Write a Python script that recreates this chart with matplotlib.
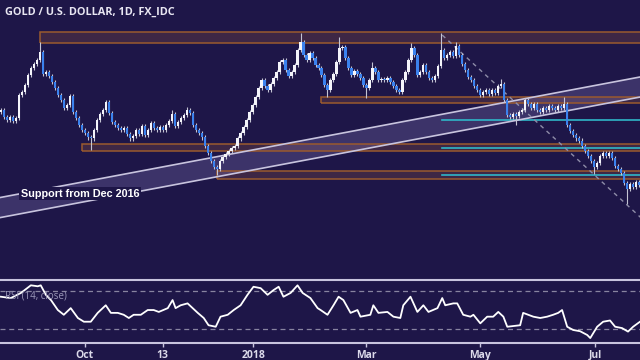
import matplotlib
matplotlib.use('Agg')
import matplotlib.pyplot as plt
from matplotlib.patches import Rectangle
import numpy as np

# ---------------- data ----------------
closes = [
    1290, 1283, 1280, 1283, 1279, 1282, 1305, 1308, 1315, 1325,
    1332, 1336, 1340, 1348, 1326, 1328, 1324, 1318, 1312, 1305,
    1300, 1292, 1295, 1304, 1288, 1282, 1275, 1270, 1267, 1263,
    1262, 1270, 1280, 1286, 1290, 1298, 1287, 1278, 1275, 1272,
    1270, 1272, 1266, 1262, 1264, 1270, 1266, 1274, 1265, 1270,
    1277, 1272, 1270, 1273, 1270, 1275, 1279, 1286, 1274, 1278,
    1282, 1285, 1290, 1287, 1275, 1270, 1267, 1263, 1255, 1248,
    1240, 1234, 1232, 1240, 1244, 1247, 1250, 1253, 1255, 1262,
    1267, 1273, 1280, 1288, 1295, 1303, 1312, 1320, 1314, 1310,
    1316, 1322, 1328, 1338, 1340, 1330, 1324, 1328, 1335, 1350,
    1358, 1345, 1340, 1347, 1342, 1335, 1332, 1325, 1315, 1310,
    1320, 1326, 1338, 1352, 1353, 1342, 1332, 1325, 1329, 1326,
    1322, 1315, 1312, 1320, 1332, 1328, 1320, 1321, 1320, 1322,
    1318, 1314, 1310, 1308, 1320, 1328, 1340, 1352, 1345, 1325,
    1328, 1335, 1328, 1322, 1320, 1324, 1334, 1350, 1342, 1345,
    1348, 1344, 1354, 1345, 1336, 1330, 1323, 1320, 1314, 1310,
    1305, 1308, 1310, 1306, 1310, 1307, 1314, 1316, 1300, 1285,
    1283, 1286, 1284, 1288, 1290, 1300, 1296, 1292, 1296, 1290,
    1288, 1292, 1290, 1294, 1292, 1290, 1294, 1292, 1296, 1275,
    1269, 1265, 1262, 1260, 1255, 1250, 1245, 1240, 1234, 1238,
    1245, 1248, 1245, 1248, 1243, 1235, 1232, 1228, 1218, 1212,
    1217, 1214, 1219, 1216,
]
first_open = 1288
extreme_highs = {13: 1358, 35: 1300, 57: 1290, 62: 1293, 100: 1367, 113: 1363,
                 124: 1338, 137: 1357, 147: 1367, 152: 1358, 167: 1321, 188: 1303}
extreme_lows = {30: 1251, 72: 1226, 109: 1303, 122: 1302, 172: 1275,
                198: 1227, 209: 1197}

zone_low = [1357, 1297, 1250, 1222]
zone_high = [1368, 1303, 1257, 1230]
zone_start = [13, 107, 27, 72]
cyan_levels = [1280, 1253, 1226]
cyan_start = 147.3

channel_x = [-2, 216]
channel_upper = [1202.2, 1324.8]
channel_lower = [1182.2, 1304.8]
trend_x = [147.3, 214]
trend_y = [1365, 1182]

rsi_x = [0.0, 3.3, 6.7, 10, 12.3, 13.3, 15, 16.7, 19, 21, 23.3, 25.7, 27.7, 30, 32.3, 35,
         36.7, 39, 41, 42.7, 44.3, 46.7, 49, 51, 52.7, 55.7, 57.3, 58.3, 60, 62.3, 64,
         65.7, 67.7, 69.3, 71.7, 73.3, 75.7, 77.7, 80, 82.3, 84.3, 86.7, 89, 91, 92.7,
         94.3, 96.7, 99, 100.7, 103.3, 105.7, 106.7, 109, 111, 112.7, 114.3, 116.7, 119,
         120, 123.3, 124.3, 126, 129, 131, 133.3, 134.3, 136.7, 139, 141, 142.7, 145.7,
         147.3, 148.3, 151, 152.3, 154.3, 156.7, 157.7, 160, 162.3, 164.3, 166, 167.7,
         169, 173.3, 174.3, 177.7, 180, 182.3, 184.3, 186, 187.3, 189, 191, 193.3, 195.7,
         196.7, 199, 201, 203.3, 205, 207.3, 209.3, 211, 213.3]
rsi_val = [64, 62.6, 68, 76, 75, 76, 66, 60.5, 50, 45, 52, 41.6, 37.7, 37.7, 47, 55,
           47, 47, 45, 41.6, 45, 45, 50, 50, 48, 52, 60.5, 52, 55, 57, 52,
           47, 41.6, 34, 32.4, 43, 45, 50, 55, 66, 74.5, 73, 66, 71, 74.5,
           64, 68, 76, 68, 62.6, 52, 50, 45, 55, 64, 60.5, 47, 50,
           43, 45, 55, 47, 48, 43, 41.6, 55, 64, 48, 55, 48, 52,
           62.6, 55, 57, 57, 45, 43, 45, 36, 43, 43, 48, 43,
           32.4, 34, 47, 43, 41.6, 43, 45, 47, 50, 32.4, 29, 27.7, 23.7,
           20.5, 32.4, 37.7, 39, 32.4, 31, 27.3, 32.4, 37.7]

tick_pos = [28, 54, 84.3, 122, 160, 198.3]
tick_labels = ['Oct', '13', '2018', 'Mar', 'May', 'Jul']

# ---------------- style ----------------
BG = '#1e1648'
UP = '#f4f4fa'
DOWN = '#3b82ee'
WICK = '#c4c4d4'
ZONE_EDGE = '#9a5a2e'
ZONE_FACE = '#8a5040'
CYAN = '#2fb6c8'
LIGHT = '#c8c4de'

fig = plt.figure(figsize=(6.4, 3.6), dpi=100, facecolor=BG)
ax = fig.add_axes([0, 1 - 279 / 360, 1, 279 / 360], facecolor=BG)
rax = fig.add_axes([0, 17 / 360, 1, 63 / 360], facecolor=BG)

n = len(closes)
x = np.arange(n)
c = np.array(closes, dtype=float)
o = np.concatenate([[first_open], c[:-1]])
hi = np.maximum(o, c) + 2.0
lo = np.minimum(o, c) - 2.0
for k, v in extreme_highs.items():
    hi[k] = v
for k, v in extreme_lows.items():
    lo[k] = v
xmin, xmax = -0.3, 213.3

# zones
for zl, zh, zs in zip(zone_low, zone_high, zone_start):
    ax.add_patch(Rectangle((zs, zl), xmax + 5 - zs, zh - zl, facecolor=ZONE_FACE,
                           alpha=0.3, edgecolor='none', zorder=1))
    ax.add_patch(Rectangle((zs, zl), xmax + 5 - zs, zh - zl, facecolor='none',
                           edgecolor=ZONE_EDGE, lw=1.1, zorder=2))
for lvl in cyan_levels:
    ax.plot([cyan_start, xmax + 5], [lvl, lvl], color=CYAN, lw=1.2, zorder=2)

# channel
ax.fill_between(channel_x, channel_lower, channel_upper, color='#8a80c0', alpha=0.28,
                lw=0, zorder=1)
ax.plot(channel_x, channel_upper, color=LIGHT, lw=1.2, zorder=2)
ax.plot(channel_x, channel_lower, color=LIGHT, lw=1.2, zorder=2)
ax.plot(trend_x, trend_y, color='#8e8ca8', lw=1.0, ls=(0, (3, 3)), zorder=2)

# candles
up = c >= o
ax.vlines(x, lo, hi, color=WICK, lw=0.8, zorder=3)
body_h = np.maximum(np.abs(c - o), 1.0)
ax.bar(x[up], body_h[up], bottom=np.minimum(o, c)[up], width=0.75, color=UP,
       lw=0, zorder=4)
ax.bar(x[~up], body_h[~up], bottom=np.minimum(o, c)[~up], width=0.75, color=DOWN,
       lw=0, zorder=4)

ax.text(6.7, 1207, 'Support from Dec 2016', color='white', fontsize=7.8,
        fontweight='bold', family='Liberation Sans', va='center', ha='left', zorder=6,
        bbox=dict(boxstyle='square,pad=0.15', facecolor=BG, edgecolor='none'))

ax.set_xlim(xmin, xmax)
ax.set_ylim(1122, 1400)
ax.axis('off')

fig.text(5 / 640, 1 - 12 / 360, 'GOLD / U.S. DOLLAR, 1D, FX_IDC', color='#e8e6f2',
         fontsize=7.8, fontweight='bold', family='Open Sans', va='center', ha='left')

# RSI panel
rax.axhline(70, color='#8884a0', lw=0.9, ls=(0, (4, 3)))
rax.axhline(30, color='#8884a0', lw=0.9, ls=(0, (4, 3)))
rax.plot(rsi_x, rsi_val, color='white', lw=1.3)
rax.text(1.5, 64.5, 'RSI (14, close)', color='#9a96b8', fontsize=7, va='center',
         ha='left', family='Open Sans')
rax.set_xlim(xmin, xmax)
rax.set_ylim(15.3, 81.6)
for s in ['left', 'right']:
    rax.spines[s].set_visible(False)
for s in ['top', 'bottom']:
    rax.spines[s].set_color(LIGHT)
    rax.spines[s].set_linewidth(1.5)
rax.set_yticks([])
rax.set_xticks(tick_pos)
rax.set_xticklabels(tick_labels)
rax.tick_params(axis='x', colors=LIGHT, length=3, width=1, pad=2, labelsize=7.5,
                labelcolor='#dcdaea')
for lab in rax.get_xticklabels():
    lab.set_fontweight('bold')
    lab.set_family('Open Sans')

fig.savefig('out.png', dpi=100, facecolor=BG)
